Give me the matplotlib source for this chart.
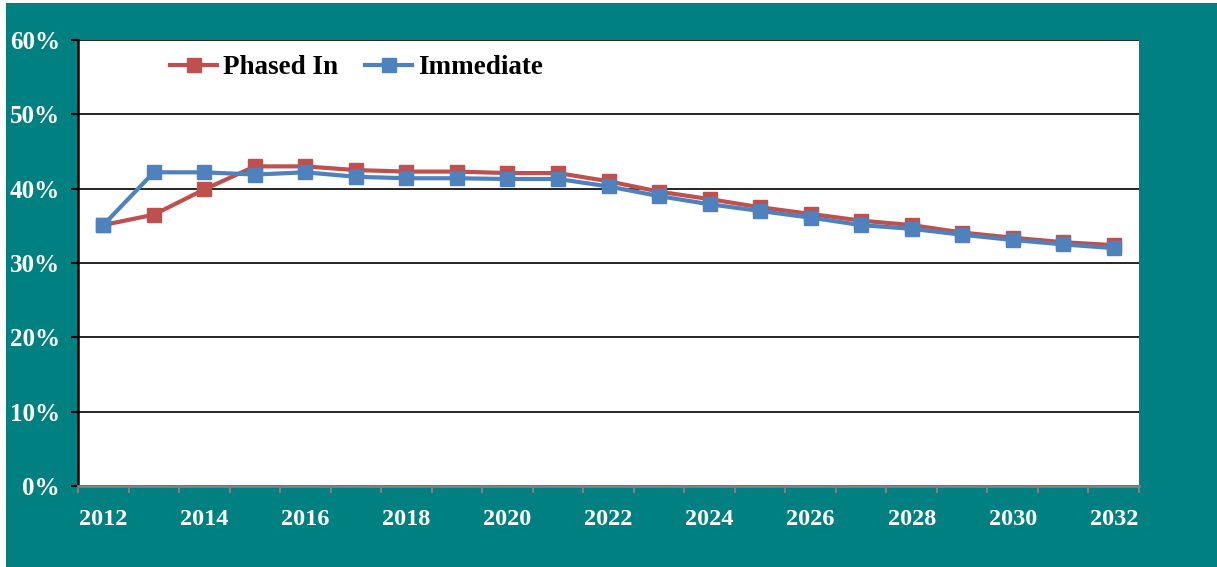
import matplotlib
matplotlib.use("Agg")
import matplotlib.pyplot as plt
from matplotlib.patches import Rectangle
from matplotlib.ticker import FixedLocator, FuncFormatter

years = list(range(2012, 2033))
phased_in = [35.1, 36.5, 39.9, 43.0, 43.0, 42.5, 42.3, 42.3, 42.1, 42.1,
             41.0, 39.6, 38.6, 37.5, 36.6, 35.7, 35.1, 34.1, 33.4, 32.8, 32.4]
immediate = [35.1, 42.2, 42.2, 41.9, 42.2, 41.6, 41.4, 41.4, 41.3, 41.3,
             40.3, 39.0, 37.9, 37.0, 36.1, 35.1, 34.6, 33.8, 33.1, 32.5, 32.0]
y_ticks = [0, 10, 20, 30, 40, 50, 60]
series_names = ["Phased In", "Immediate"]

TEAL = "#008080"
RED = "#C0504D"
BLUE = "#4F81BD"
FONT = "Liberation Serif"

W, H = 1217, 567
fig = plt.figure(figsize=(W / 100, H / 100), dpi=100, facecolor="white")
fig.patches.append(Rectangle((6 / W, 0), 1 - 6 / W, 1 - 3 / H,
                             transform=fig.transFigure, facecolor=TEAL,
                             edgecolor="none", zorder=-10))

left, right, top, bottom = 78, 1139, 40, 486
ax = fig.add_axes([left / W, 1 - bottom / H, (right - left) / W, (bottom - top) / H])
ax.set_zorder(1)
ax.set_facecolor("white")

x = list(range(len(years)))
ax.plot(x, phased_in, color=RED, lw=3.0, marker="s", ms=9.6,
        label=series_names[0], zorder=3, solid_joinstyle="round")
ax.plot(x, immediate, color=BLUE, lw=3.0, marker="s", ms=9.6,
        label=series_names[1], zorder=4, solid_joinstyle="round")

ax.set_xlim(-0.5, len(years) - 0.5)
ax.set_ylim(0, 60)

# y axis
ax.set_yticks(y_ticks)
ax.yaxis.set_major_formatter(FuncFormatter(lambda v, p: f"{int(v)}%"))
ax.yaxis.grid(True, color="black", lw=1.2, zorder=1)
ax.set_axisbelow(True)
ax.tick_params(axis="y", which="major", length=5, width=1.5, color="black",
               pad=8, labelcolor="white", labelsize=18)

# x axis: labels every other year, gray tick marks at category boundaries
ax.xaxis.set_major_locator(FixedLocator(x[::2]))
ax.set_xticklabels([str(years[i]) for i in x[::2]])
ax.xaxis.set_minor_locator(FixedLocator([i - 0.5 for i in range(len(years) + 1)]))
ax.tick_params(axis="x", which="major", length=0, pad=16.5,
               labelcolor="white", labelsize=17.5)
ax.tick_params(axis="x", which="minor", length=5, width=1.5, color="#808080")

for lab in ax.get_xticklabels() + ax.get_yticklabels():
    lab.set_fontfamily(FONT)
    lab.set_fontweight("bold")

ax.spines["left"].set_color("black")
ax.spines["left"].set_linewidth(1.8)
ax.spines["bottom"].set_color("#808080")
ax.spines["bottom"].set_linewidth(2.0)
ax.spines["right"].set_visible(False)
ax.spines["top"].set_visible(False)

leg = ax.legend(loc="center left", bbox_to_anchor=(170 / W, 1 - 68 / H),
                bbox_transform=fig.transFigure,
                ncol=2, frameon=False, handlelength=1.75, handletextpad=0.2,
                columnspacing=1.0, borderpad=0, borderaxespad=0,
                prop={"family": FONT, "weight": "bold", "size": 19.5})
for t in leg.get_texts():
    t.set_color("black")

fig.savefig("out.png", dpi=100, facecolor=fig.get_facecolor())
